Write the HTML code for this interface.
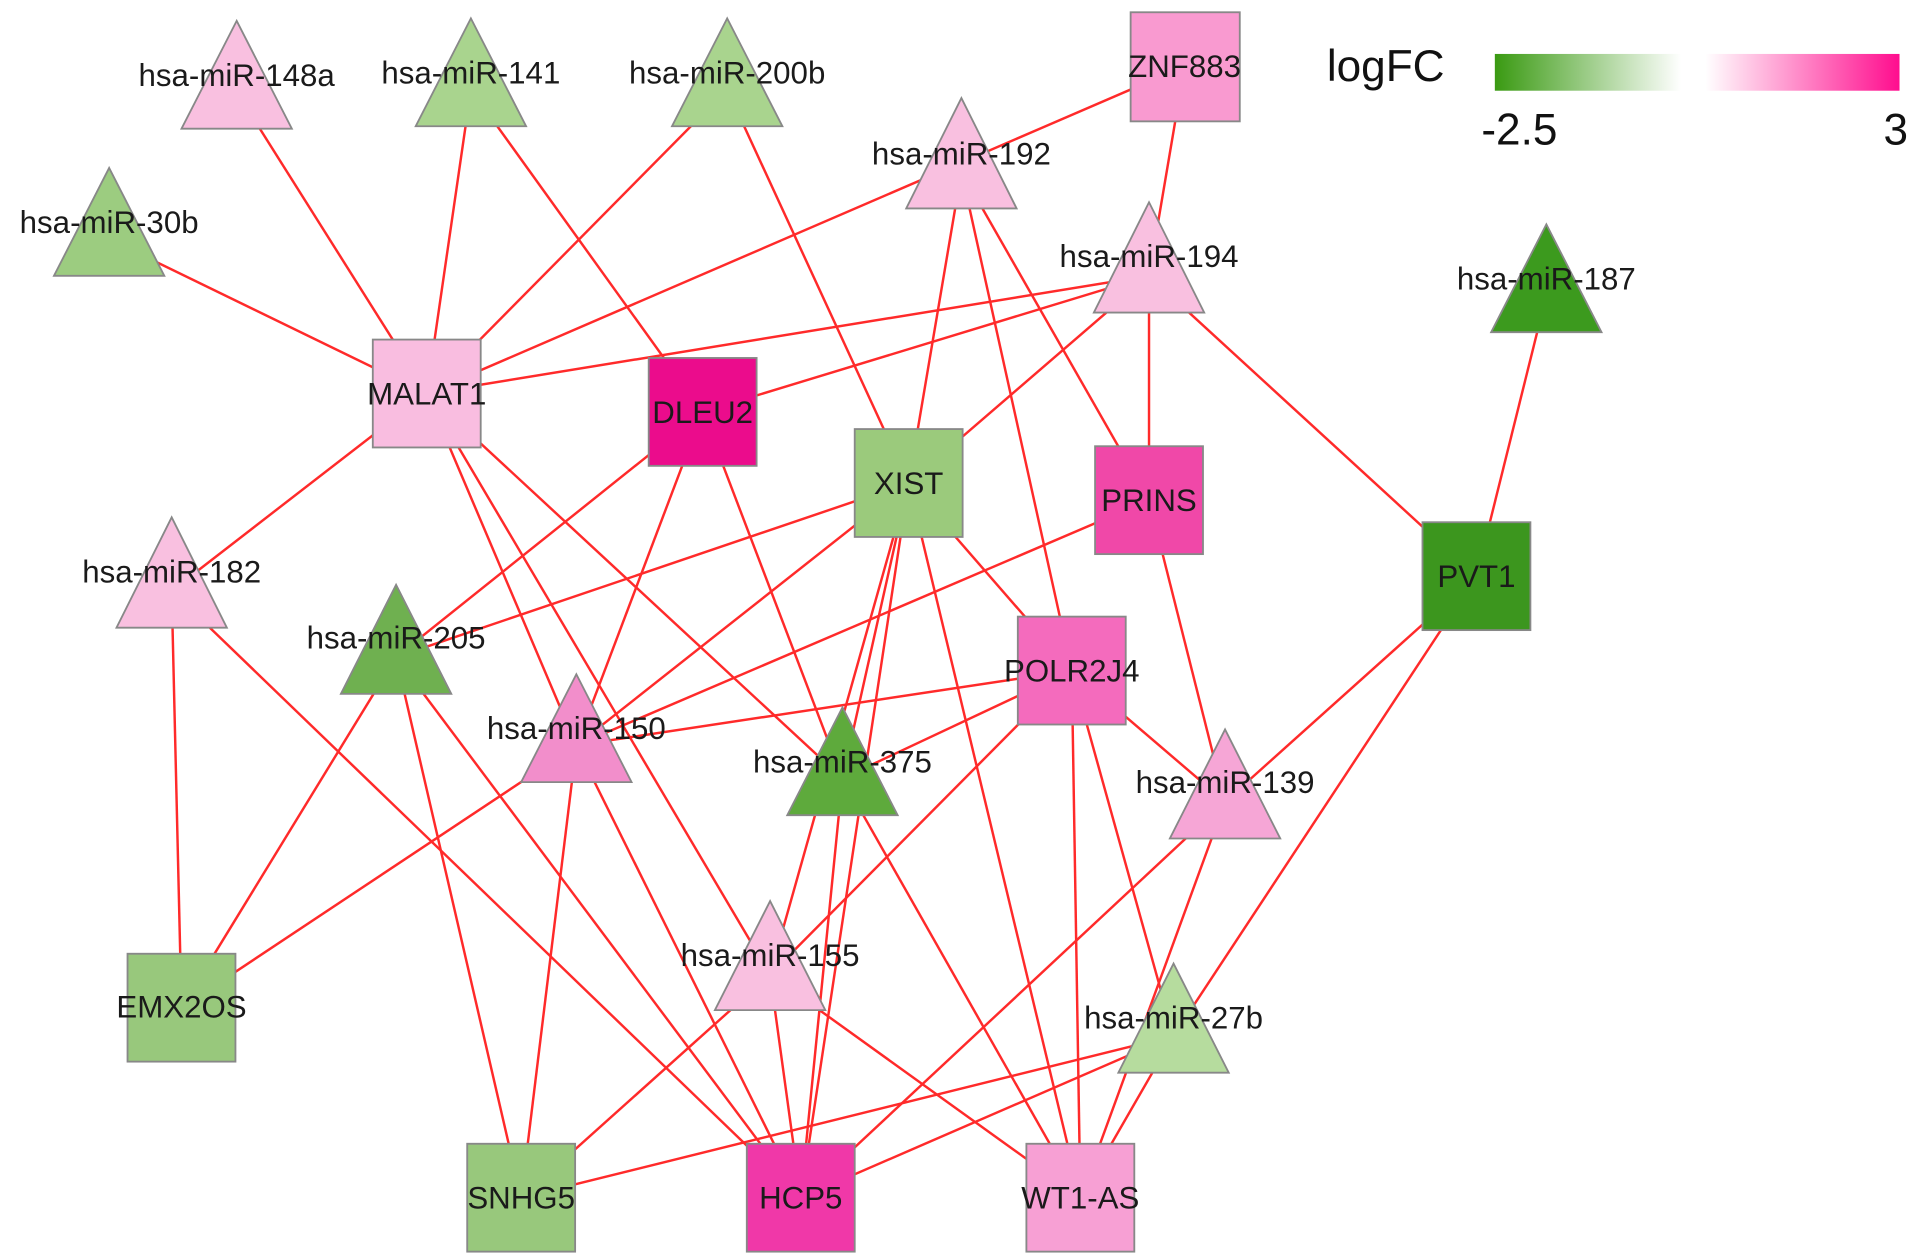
<!DOCTYPE html>
<html><head><meta charset="utf-8"><style>html,body{margin:0;padding:0;background:#fff;}svg{display:block}</style></head>
<body>
<svg width="1913" height="1259" viewBox="0 0 1560 1027" preserveAspectRatio="none" xmlns="http://www.w3.org/2000/svg" font-family="Liberation Sans, Arial, sans-serif">
<defs>
<linearGradient id="gh" x1="0" x2="1" y1="0" y2="0">
<stop offset="0" stop-color="#3a9a12"/><stop offset="0.46" stop-color="#ffffff"/><stop offset="0.52" stop-color="#ffffff"/><stop offset="1" stop-color="#ff0d8e"/>
</linearGradient>
</defs>
<g stroke="#ff2a2a" stroke-width="2">
<line x1="193" y1="75" x2="348" y2="321"/>
<line x1="384" y1="73" x2="348" y2="321"/>
<line x1="384" y1="73" x2="573" y2="336"/>
<line x1="593" y1="73" x2="348" y2="321"/>
<line x1="593" y1="73" x2="741" y2="394"/>
<line x1="89" y1="195" x2="348" y2="321"/>
<line x1="966" y1="54" x2="348" y2="321"/>
<line x1="966" y1="54" x2="937" y2="225"/>
<line x1="937" y1="225" x2="348" y2="321"/>
<line x1="937" y1="225" x2="573" y2="336"/>
<line x1="937" y1="225" x2="741" y2="394"/>
<line x1="937" y1="225" x2="937" y2="408"/>
<line x1="937" y1="225" x2="1204" y2="470"/>
<line x1="784" y1="140" x2="741" y2="394"/>
<line x1="784" y1="140" x2="937" y2="408"/>
<line x1="784" y1="140" x2="874" y2="547"/>
<line x1="1261" y1="241" x2="1204" y2="470"/>
<line x1="348" y1="321" x2="140" y2="482"/>
<line x1="140" y1="482" x2="148" y2="822"/>
<line x1="140" y1="482" x2="653" y2="977"/>
<line x1="323" y1="536" x2="573" y2="336"/>
<line x1="323" y1="536" x2="741" y2="394"/>
<line x1="323" y1="536" x2="148" y2="822"/>
<line x1="323" y1="536" x2="425" y2="977"/>
<line x1="323" y1="536" x2="653" y2="977"/>
<line x1="470" y1="608" x2="573" y2="336"/>
<line x1="470" y1="608" x2="741" y2="394"/>
<line x1="470" y1="608" x2="937" y2="408"/>
<line x1="470" y1="608" x2="874" y2="547"/>
<line x1="470" y1="608" x2="148" y2="822"/>
<line x1="470" y1="608" x2="425" y2="977"/>
<line x1="470" y1="608" x2="653" y2="977"/>
<line x1="348" y1="321" x2="470" y2="608"/>
<line x1="348" y1="321" x2="628" y2="795"/>
<line x1="348" y1="321" x2="687" y2="635"/>
<line x1="573" y1="336" x2="687" y2="635"/>
<line x1="741" y1="394" x2="687" y2="635"/>
<line x1="741" y1="394" x2="653" y2="977"/>
<line x1="741" y1="394" x2="628" y2="795"/>
<line x1="741" y1="394" x2="874" y2="547"/>
<line x1="741" y1="394" x2="881" y2="977"/>
<line x1="874" y1="547" x2="687" y2="635"/>
<line x1="874" y1="547" x2="628" y2="795"/>
<line x1="874" y1="547" x2="999" y2="654"/>
<line x1="874" y1="547" x2="957" y2="845"/>
<line x1="874" y1="547" x2="881" y2="977"/>
<line x1="937" y1="408" x2="999" y2="654"/>
<line x1="1204" y1="470" x2="999" y2="654"/>
<line x1="1204" y1="470" x2="957" y2="845"/>
<line x1="999" y1="654" x2="653" y2="977"/>
<line x1="999" y1="654" x2="881" y2="977"/>
<line x1="687" y1="635" x2="653" y2="977"/>
<line x1="687" y1="635" x2="881" y2="977"/>
<line x1="628" y1="795" x2="653" y2="977"/>
<line x1="628" y1="795" x2="425" y2="977"/>
<line x1="628" y1="795" x2="881" y2="977"/>
<line x1="957" y1="845" x2="425" y2="977"/>
<line x1="957" y1="845" x2="653" y2="977"/>
<line x1="957" y1="845" x2="881" y2="977"/>
</g>
<g stroke="#888" stroke-width="1.5">
<polygon points="193,17 238,105 148,105" fill="#f9c0e0"/>
<polygon points="384,15 429,103 339,103" fill="#a9d48e"/>
<polygon points="593,15 638,103 548,103" fill="#a9d48e"/>
<polygon points="89,137 134,225 44,225" fill="#9ccc80"/>
<polygon points="784,80 829,170 739,170" fill="#f9c0e0"/>
<polygon points="937,165 982,255 892,255" fill="#f9c0e0"/>
<polygon points="1261,183 1306,271 1216,271" fill="#3c9a1e"/>
<polygon points="140,422 185,512 95,512" fill="#f9c0e0"/>
<polygon points="323,477 368,566 278,566" fill="#6fb050"/>
<polygon points="470,550 515,638 425,638" fill="#f28ecb"/>
<polygon points="687,577 732,665 642,665" fill="#5eaa3c"/>
<polygon points="999,595 1044,684 954,684" fill="#f6a6d6"/>
<polygon points="628,735 673,824 583,824" fill="#f9c0e0"/>
<polygon points="957,786 1002,875 912,875" fill="#b6dc9e"/>
<rect x="922" y="10" width="89" height="89" fill="#f99ad0"/>
<rect x="304" y="277" width="88" height="88" fill="#f9bde0"/>
<rect x="529" y="292" width="88" height="88" fill="#eb0c8c"/>
<rect x="697" y="350" width="88" height="88" fill="#9bca7c"/>
<rect x="893" y="364" width="88" height="88" fill="#f048a8"/>
<rect x="1160" y="426" width="88" height="88" fill="#3c961e"/>
<rect x="830" y="503" width="88" height="88" fill="#f46bbd"/>
<rect x="104" y="778" width="88" height="88" fill="#98c87c"/>
<rect x="381" y="933" width="88" height="88" fill="#98c87c"/>
<rect x="609" y="933" width="88" height="88" fill="#f038a8"/>
<rect x="837" y="933" width="88" height="88" fill="#f7a0d4"/>
</g>
<g font-size="25.5" fill="#1a1a1a" text-anchor="middle">
<text x="193" y="70">hsa-miR-148a</text>
<text x="384" y="68">hsa-miR-141</text>
<text x="593" y="68">hsa-miR-200b</text>
<text x="89" y="190">hsa-miR-30b</text>
<text x="784" y="134">hsa-miR-192</text>
<text x="937" y="218">hsa-miR-194</text>
<text x="1261" y="236">hsa-miR-187</text>
<text x="140" y="475">hsa-miR-182</text>
<text x="323" y="529">hsa-miR-205</text>
<text x="470" y="603">hsa-miR-150</text>
<text x="687" y="630">hsa-miR-375</text>
<text x="999" y="647">hsa-miR-139</text>
<text x="628" y="788">hsa-miR-155</text>
<text x="957" y="839">hsa-miR-27b</text>
<text x="966" y="63">ZNF883</text>
<text x="348" y="330">MALAT1</text>
<text x="573" y="345">DLEU2</text>
<text x="741" y="403">XIST</text>
<text x="937" y="417">PRINS</text>
<text x="1204" y="479">PVT1</text>
<text x="874" y="556">POLR2J4</text>
<text x="148" y="830">EMX2OS</text>
<text x="425" y="986">SNHG5</text>
<text x="653" y="986">HCP5</text>
<text x="881" y="986">WT1-AS</text>
</g>
<text x="1082" y="66" font-size="36" fill="#111">logFC</text>
<rect x="1219" y="44" width="330" height="30" fill="url(#gh)"/>
<text x="1208" y="118" font-size="36" fill="#111">-2.5</text>
<text x="1536" y="118" font-size="36" fill="#111">3</text>
</svg>
</body></html>
